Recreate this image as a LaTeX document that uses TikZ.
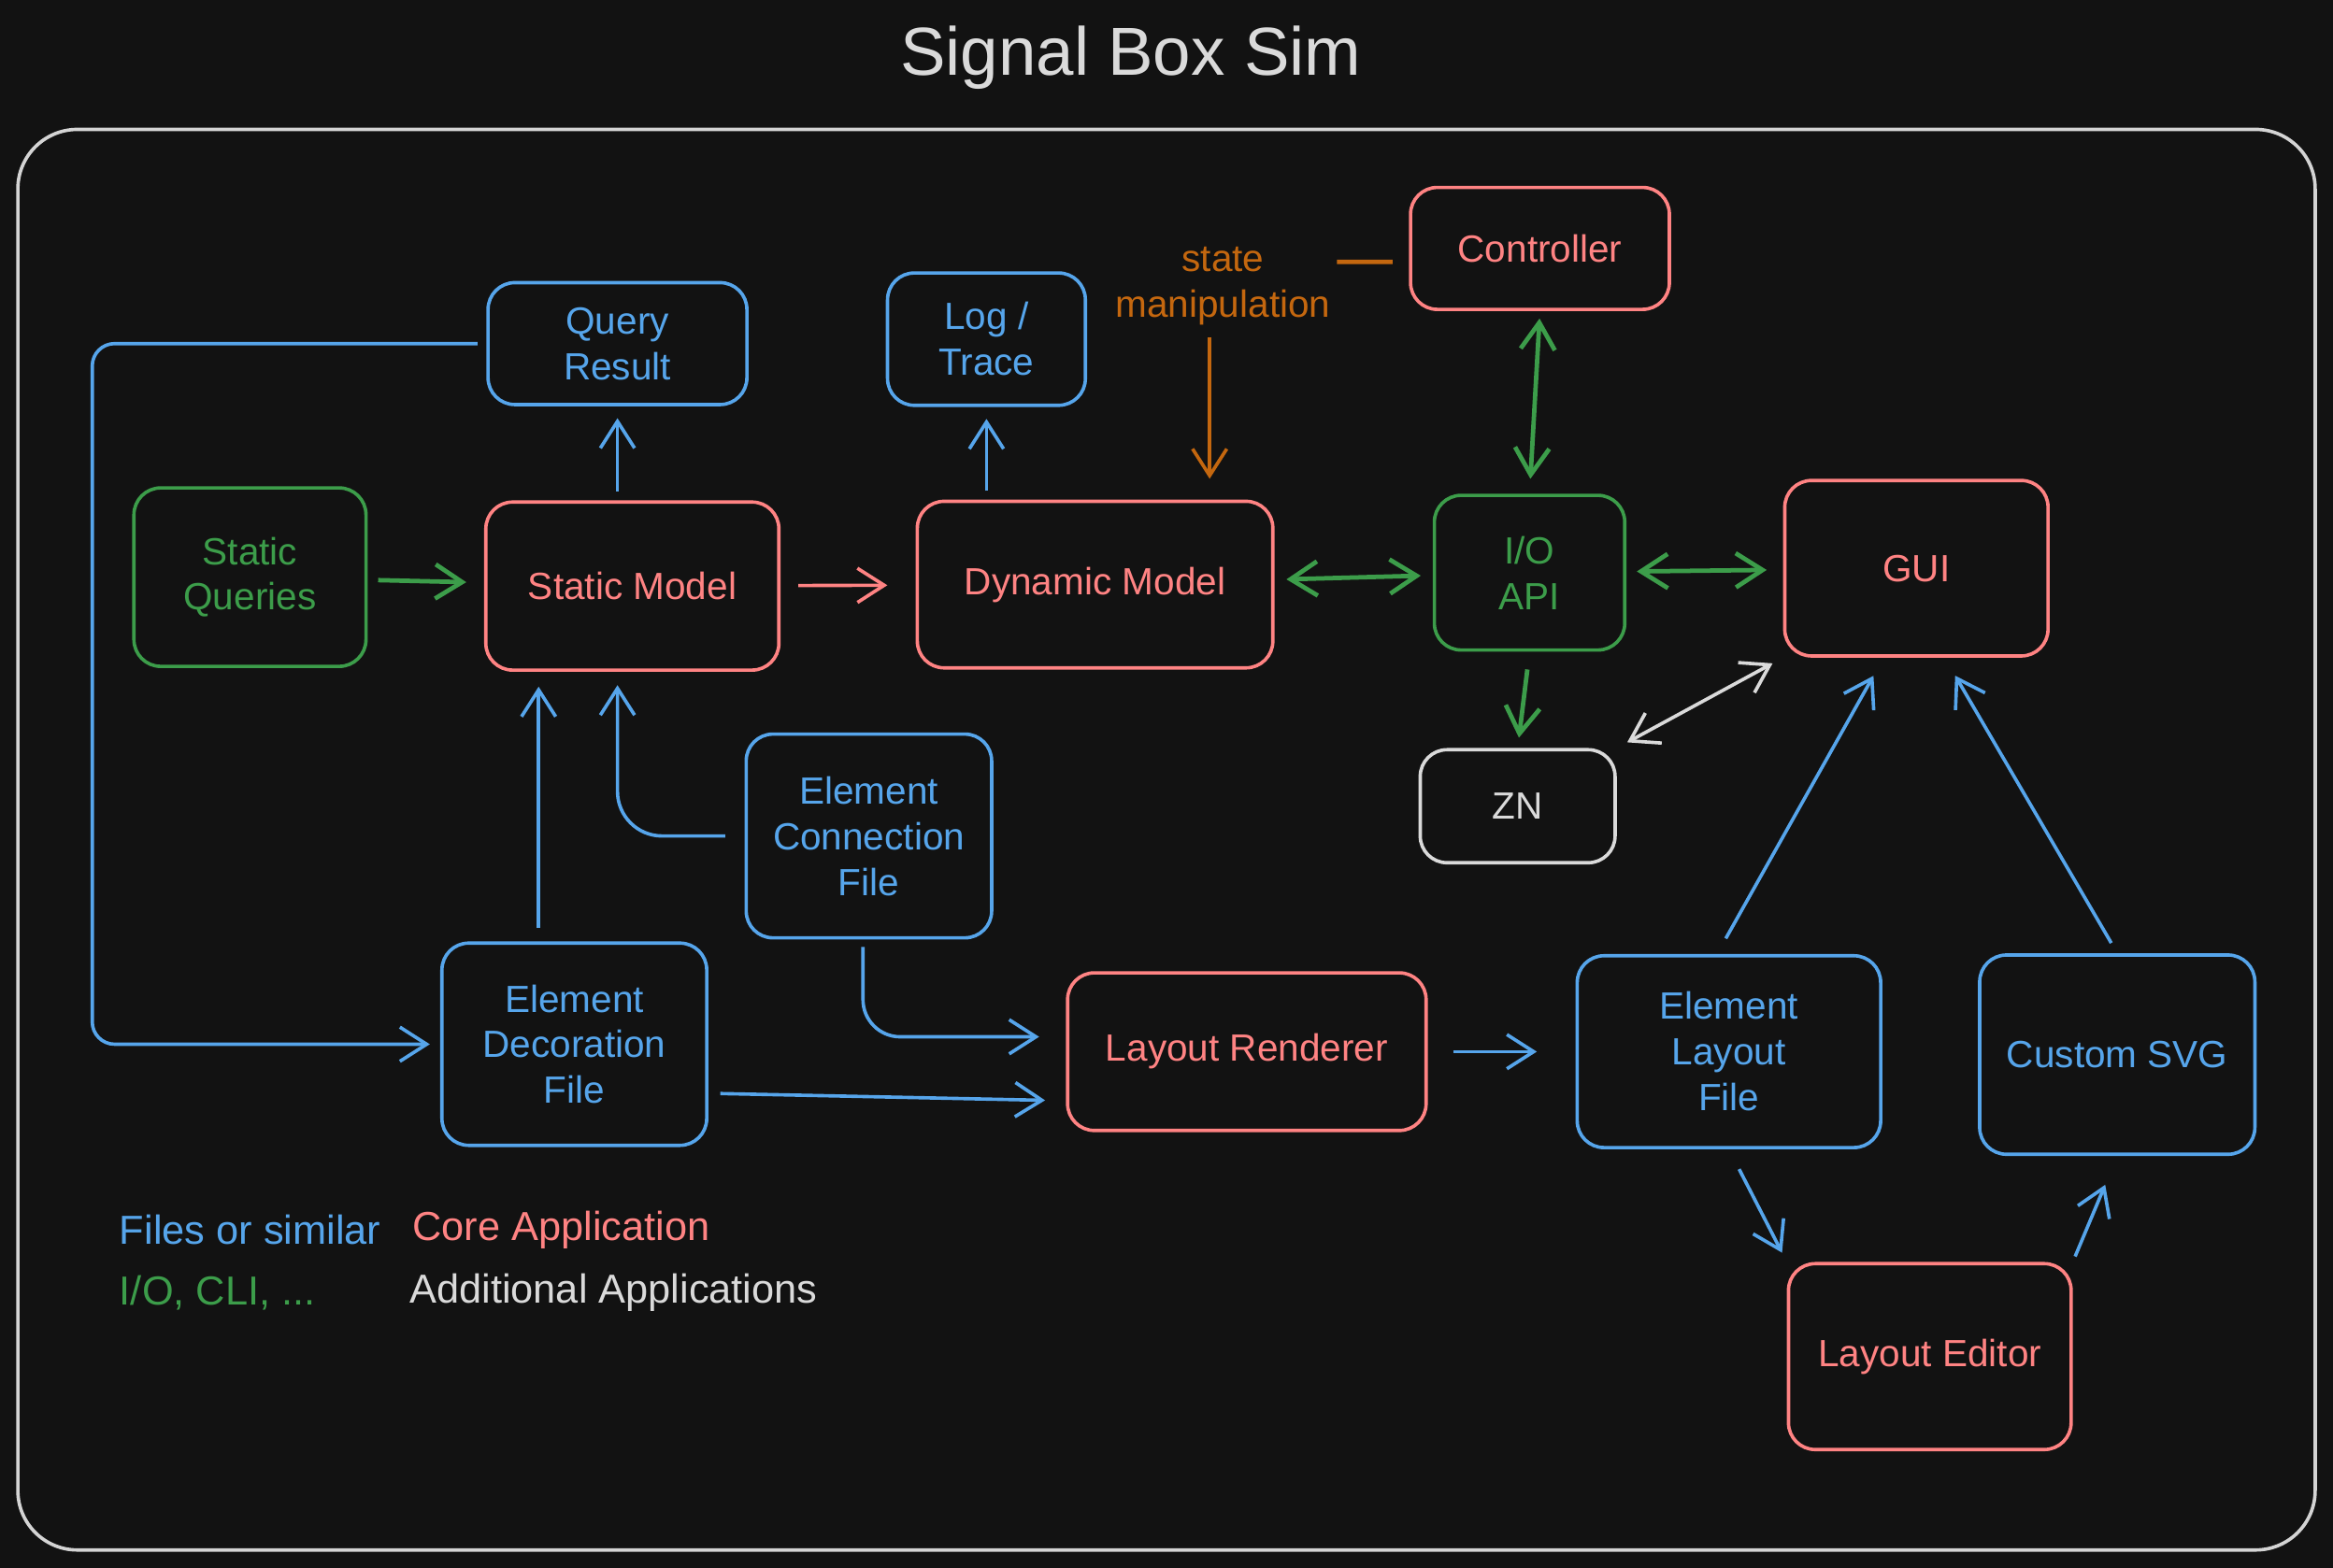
\documentclass[tikz,border=0pt]{standalone}
\usepackage{fontspec}
\setmainfont{Liberation Sans}
\usetikzlibrary{arrows.meta}
\definecolor{bgdark}{HTML}{121212}
\definecolor{framegray}{HTML}{D4D4D4}
\definecolor{fileblue}{HTML}{56A5EB}
\definecolor{corered}{HTML}{FF8383}
\definecolor{iogreen}{HTML}{3C9D4A}
\definecolor{extwhite}{HTML}{DADADA}
\definecolor{manipbrown}{HTML}{C4670F}
\begin{document}
\begin{tikzpicture}[x=0.02cm,y=-0.02cm,
 >={Straight Barb[length=0.36cm,width=0.46cm]},
 every node/.style={font=\fontsize{14.5}{17.5}\selectfont,align=center},
 box/.style={draw,line width=1.3pt,rounded corners=0.36cm,inner sep=2pt},
 filebox/.style={box,draw=fileblue,text=fileblue},
 corebox/.style={box,draw=corered,text=corered},
 iobox/.style={box,draw=iogreen,text=iogreen},
 extbox/.style={box,draw=extwhite,text=extwhite},
 legend/.style={anchor=west,inner sep=0pt,font=\fontsize{15.5}{18}\selectfont},
 link/.style={line width=1.3pt,shorten >=0.16cm,shorten <=0.16cm,->},
 filelink/.style={link,draw=fileblue},
 corelink/.style={link,draw=corered},
 iolink/.style={link,draw=iogreen,line width=1.7pt},
 extlink/.style={link,draw=extwhite},
 maniplink/.style={link,draw=manipbrown}]
 \fill[bgdark](0,0) rectangle (1568,1054);
 \useasboundingbox (0,0) rectangle (1568,1054);
 \draw[framegray,line width=1.3pt,rounded corners=0.8cm](12,87) rectangle (1556,1042);
 \node[text=extwhite,font=\fontsize{26}{30}\selectfont] (title) at (760,39) {Signal Box Sim};

 \node[filebox,minimum width=3.48cm,minimum height=1.64cm] (qresult) at (415,231) {Query\\Result};
 \node[filebox,minimum width=2.66cm,minimum height=1.78cm] (logtrace) at (663,228) {Log /\\Trace};
 \node[corebox,minimum width=3.48cm,minimum height=1.64cm] (ctrl) at (1035,167) {Controller};
 \node[iobox,minimum width=3.12cm,minimum height=2.4cm] (squeries) at (168,388) {Static\\Queries};
 \node[corebox,minimum width=3.94cm,minimum height=2.26cm] (smodel) at (425,394) {Static Model};
 \node[corebox,minimum width=4.78cm,minimum height=2.24cm] (dmodel) at (736,393) {Dynamic Model};
 \node[iobox,minimum width=2.56cm,minimum height=2.08cm] (ioapi) at (1028,385) {I/O\\API};
 \node[corebox,minimum width=3.54cm,minimum height=2.36cm] (gui) at (1288,382) {GUI};
 \node[extbox,minimum width=2.62cm,minimum height=1.52cm] (zn) at (1020,542) {ZN};
 \node[filebox,minimum width=3.3cm,minimum height=2.74cm] (econn) at (584,562) {Element\\Connection\\File};
 \node[filebox,minimum width=3.56cm,minimum height=2.72cm] (edeco) at (386,702) {Element\\Decoration\\File};
 \node[corebox,minimum width=4.82cm,minimum height=2.12cm] (lrender) at (838,707) {Layout Renderer};
 \node[filebox,minimum width=4.08cm,minimum height=2.58cm] (elayout) at (1162,707) {Element\\Layout\\File};
 \node[filebox,minimum width=3.7cm,minimum height=2.68cm] (csvg) at (1423,709) {Custom SVG};
 \node[corebox,minimum width=3.8cm,minimum height=2.5cm] (ledit) at (1297,912) {Layout Editor};
 \node[text=manipbrown,inner sep=0pt] (smanip) at (822,192) {state\\manipulation};
 \coordinate (qloop) at (62,231);

 \node[legend,text=fileblue] (lgfile) at (80,827) {Files or similar};
 \node[legend,text=corered] (lgcore) at (277,827) {Core Application};
 \node[legend,text=iogreen] (lgio) at (80,869) {I/O, CLI, ...};
 \node[legend,text=extwhite] (lgext) at (275,869) {Additional Applications};

 \draw[iolink,shorten <=0.14cm,shorten >=0.24cm](squeries) -- (smodel);
 \draw[filelink,shorten <=0.12cm](qresult.south |- smodel.north) -- (qresult.south);
 \draw[corelink,shorten <=0.24cm,shorten >=0.38cm](smodel) -- (dmodel);
 \draw[filelink,shorten <=0.12cm](logtrace.south |- dmodel.north) -- (logtrace.south);
 \draw[iolink,<->](dmodel) -- (ioapi);
 \draw[iolink,<->,shorten <=0.14cm,shorten >=0.22cm](ioapi) -- (gui);
 \draw[iolink,<->,shorten <=0.1cm,shorten >=0.2cm](ctrl.south) -- (ioapi.north);
 \draw[iolink,shorten <=0.24cm,shorten >=0.14cm](ioapi.south) -- (zn.north);
 \draw[extlink,<->](zn.north east) -- (gui.south west);
 \draw[maniplink,-,line width=1.7pt,shorten <=0.08cm,shorten >=0.22cm]([yshift=0.32cm]smanip.east) -- ([yshift=-0.18cm]ctrl.west);
 \draw[maniplink,shorten <=0.16cm,shorten >=0.28cm]([xshift=-0.18cm]smanip.south) -- ([xshift=-0.18cm]smanip.south |- dmodel.north);
 \draw[filelink,rounded corners=0.3cm,shorten <=0.12cm,shorten >=0.14cm](qresult.west) -- (qloop) |- (edeco.west);
 \draw[filelink,shorten <=0.18cm,shorten >=0.2cm]([xshift=-0.48cm]edeco.north) -- ([xshift=-0.48cm]edeco.north |- smodel.south);
 \draw[filelink,rounded corners=0.6cm,shorten <=0.26cm,shorten >=0.18cm](econn.west) -| ([xshift=-0.2cm]smodel.south);
 \draw[filelink,rounded corners=0.5cm,shorten <=0.1cm,shorten >=0.36cm]([xshift=-0.08cm]econn.south) |- ([yshift=0.2cm]lrender.west);
 \draw[filelink,shorten <=0.16cm,shorten >=0.28cm]([yshift=-0.66cm]edeco.east) -- ([yshift=-0.66cm]lrender.west);
 \draw[filelink,shorten <=0.34cm,shorten >=0.52cm](lrender) -- (elayout);
 \draw[filelink,shorten <=0.24cm,shorten >=0.28cm]([xshift=-0.16cm]elayout.north) -- ([xshift=-0.44cm]gui.south);
 \draw[filelink,shorten <=0.16cm,shorten >=0.28cm](csvg.north) -- ([xshift=0.38cm]gui.south);
 \draw[filelink,shorten <=0.3cm,shorten >=0.14cm](elayout.south) -- (ledit.north west);
 \draw[filelink,shorten <=0.08cm,shorten >=0.42cm](ledit.north east) -- (csvg.south);
\end{tikzpicture}
\end{document}
